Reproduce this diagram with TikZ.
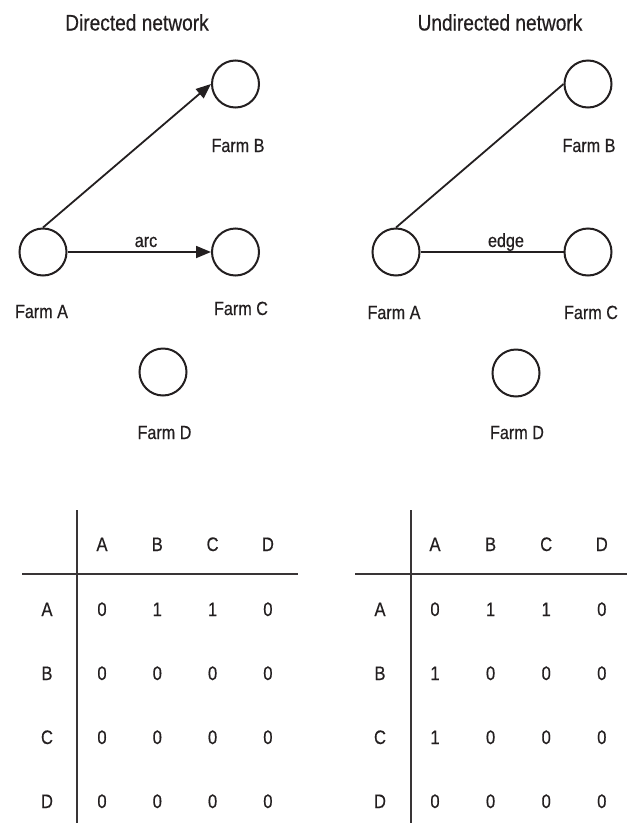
\documentclass[tikz,border=0pt]{standalone}
\usepackage{fontspec}
\setmainfont{Liberation Sans}[FakeStretch=0.85,FakeBold=0.5]
\usetikzlibrary{arrows.meta}
\definecolor{ink}{HTML}{231F20}
\begin{document}
\begin{tikzpicture}[x=1pt,y=-1pt,
  farm/.style={circle,draw=ink,line width=2pt,minimum size=47pt,inner sep=0pt},
  lbl/.style={anchor=base,inner sep=0pt,text=ink,font=\fontsize{19}{22}\selectfont},
  ttl/.style={anchor=base,inner sep=0pt,text=ink,font=\fontsize{22.5}{26}\selectfont},
  cell/.style={anchor=base,inner sep=0pt,text=ink,font=\fontsize{19.5}{23}\selectfont},
  link/.style={draw=ink,line width=1.8pt},
  arrowlink/.style={link,-{Triangle[length=15pt,width=12pt]}},
  rule/.style={draw=ink!90,line width=1.5pt}]
\useasboundingbox (0,0) rectangle (627,825);

% ---------- directed network ----------
\node[ttl] (dtitle) at (137,30.5) {Directed network};
\node[farm] (dA) at (43,252) {};
\node[farm] (dB) at (235.5,84) {};
\node[farm] (dC) at (235.5,252) {};
\node[farm] (dD) at (163,372) {};
\node[lbl] (dAl) at (41.5,318) {Farm A};
\node[lbl] (dBl) at (238,152) {Farm B};
\node[lbl] (dCl) at (241,315) {Farm C};
\node[lbl] (dDl) at (164.5,439) {Farm D};
\draw[arrowlink] (dA.north) -- (dB.west);
\draw[arrowlink] (dA.east) -- (dC.west);
\node[lbl] (arcl) at (146,247) {arc};

% ---------- undirected network ----------
\node[ttl] (utitle) at (500,30.5) {Undirected network};
\node[farm] (uA) at (396,252) {};
\node[farm] (uB) at (588,84) {};
\node[farm] (uC) at (588,252) {};
\node[farm] (uD) at (516,373) {};
\node[lbl] (uAl) at (394,319) {Farm A};
\node[lbl] (uBl) at (589,152) {Farm B};
\node[lbl] (uCl) at (591,319) {Farm C};
\node[lbl] (uDl) at (517,439) {Farm D};
\draw[link] (uA.north) -- (uB.west);
\draw[link] (uA.east) -- (uC.west);
\node[lbl] (edgel) at (506,247) {edge};

% ---------- adjacency matrix, directed ----------
\coordinate (dvt) at (77,510);
\coordinate (dvb) at (77,823);
\coordinate (dhl) at (22,574);
\coordinate (dhr) at (298,574);
\draw[rule] (dvt) -- (dvb);
\draw[rule] (dhl) -- (dhr);
\foreach \c [count=\i] in {A,B,C,D}
  \node[cell] (dh\c) at ({102+55.3*(\i-1)},551) {\c};
\foreach \r/\y/\vals in {A/616/{0,1,1,0},B/680/{0,0,0,0},C/744/{0,0,0,0},D/808/{0,0,0,0}}{
  \node[cell] (dr\r) at (47,\y) {\r};
  \foreach \v [count=\i] in \vals
    \node[cell] (dm\r\i) at ({102+55.3*(\i-1)},\y) {\v};
}

% ---------- adjacency matrix, undirected ----------
\coordinate (uvt) at (411,510);
\coordinate (uvb) at (411,823);
\coordinate (uhl) at (355,574);
\coordinate (uhr) at (627,574);
\draw[rule] (uvt) -- (uvb);
\draw[rule] (uhl) -- (uhr);
\foreach \c [count=\i] in {A,B,C,D}
  \node[cell] (uh\c) at ({435+55.6*(\i-1)},551) {\c};
\foreach \r/\y/\vals in {A/616/{0,1,1,0},B/680/{1,0,0,0},C/744/{1,0,0,0},D/808/{0,0,0,0}}{
  \node[cell] (ur\r) at (380,\y) {\r};
  \foreach \v [count=\i] in \vals
    \node[cell] (um\r\i) at ({435+55.6*(\i-1)},\y) {\v};
}
\end{tikzpicture}
\end{document}
